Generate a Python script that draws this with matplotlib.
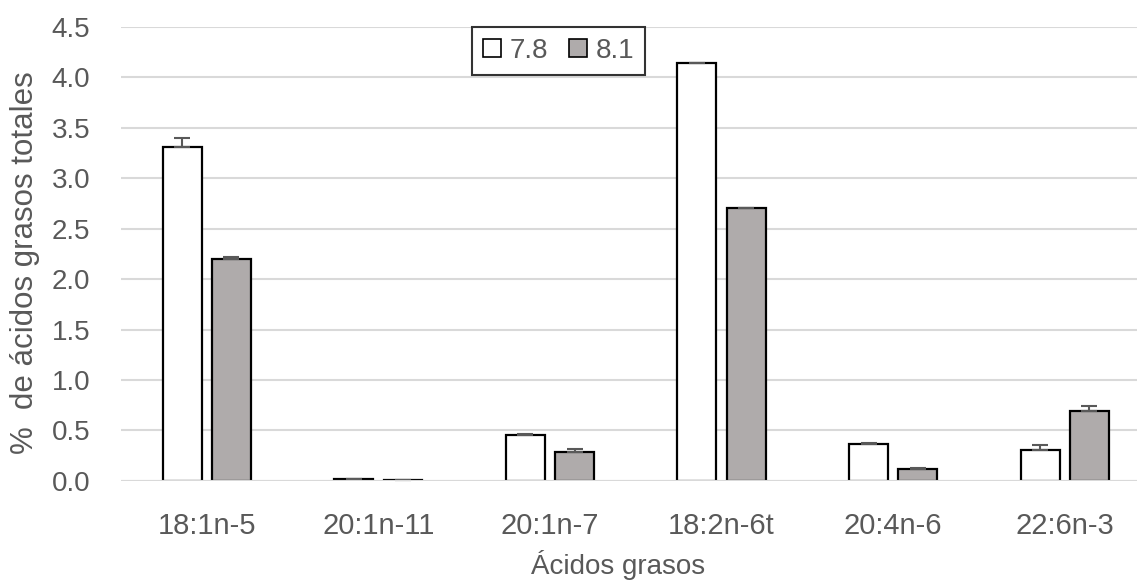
import matplotlib.pyplot as plt
from matplotlib.patches import Patch
import numpy as np

# Ácidos grasos por pH (media y error estándar)
acidos = ['18:1n-5', '20:1n-11', '20:1n-7', '18:2n-6t', '20:4n-6', '22:6n-3']
ph_78 = [3.31, 0.02, 0.46, 4.14, 0.37, 0.31]
ph_81 = [2.20, 0.01, 0.29, 2.70, 0.12, 0.69]
err_78 = [0.09, 0.004, 0.005, 0.003, 0.005, 0.05]
err_81 = [0.015, 0.003, 0.03, 0.005, 0.005, 0.055]
series = ['7.8', '8.1']

GRIS = '#595959'
RELLENO = '#AFABAB'

plt.rcParams['font.family'] = ['Liberation Sans', 'DejaVu Sans']
plt.rcParams['font.size'] = 20

fig = plt.figure(figsize=(11.37, 5.84), dpi=100)
ax = fig.add_axes([0.1064, 0.1764, 0.9055, 0.778])

x = np.arange(len(acidos))
w = 0.227
off = 0.1435

ax.bar(x - off, ph_78, w, color='white', edgecolor='black', linewidth=1.6, zorder=2)
ax.bar(x + off, ph_81, w, color=RELLENO, edgecolor='black', linewidth=1.6, zorder=2)

# barras de error solo hacia arriba
zeros = np.zeros(len(x))
ax.errorbar(x - off, ph_78, yerr=[zeros, err_78], fmt='none', ecolor=GRIS,
            elinewidth=1.5, capsize=6, capthick=1.5, zorder=3)
ax.errorbar(x + off, ph_81, yerr=[zeros, err_81], fmt='none', ecolor=GRIS,
            elinewidth=1.5, capsize=6, capthick=1.5, zorder=3)

ax.set_xlim(-0.5, len(acidos) - 0.5)
ax.set_ylim(0, 4.5)
ticks = np.arange(0, 4.51, 0.5)
ax.set_yticks(ticks)
ax.set_yticklabels([f'{v:.1f}' for v in ticks])
ax.set_xticks(x)
ax.set_xticklabels(acidos)

ax.yaxis.grid(True, color='#d9d9d9', linewidth=1.5, zorder=0)
ax.set_axisbelow(True)
ax.axhline(0, color='#d9d9d9', linewidth=1.5, zorder=4)
for s in ax.spines.values():
    s.set_visible(False)
ax.tick_params(length=0, colors=GRIS)
ax.tick_params(axis='y', pad=22, labelsize=20)
ax.tick_params(axis='x', pad=22, labelsize=21)

fig.text(618 / 1137, 1 - 565 / 584, 'Ácidos grasos', ha='center', va='center',
         color=GRIS, fontsize=20)
fig.text(25 / 1137, 1 - 263 / 584, '%  de ácidos grasos totales', ha='center',
         va='center', rotation=90, color=GRIS, fontsize=22.5)

handles = [Patch(facecolor='white', edgecolor='black', linewidth=1.2),
           Patch(facecolor=RELLENO, edgecolor='black', linewidth=1.2)]
leg = ax.legend(handles, series, loc='upper center', bbox_to_anchor=(0.425, 1.0),
                ncol=2, frameon=True, fancybox=False, handlelength=0.65,
                handleheight=0.65, handletextpad=0.3, columnspacing=0.75,
                borderpad=0.4, borderaxespad=0, fontsize=20, labelcolor=GRIS)
leg.get_frame().set_edgecolor('black')
leg.get_frame().set_linewidth(1.5)

fig.savefig('out.png', dpi=100)
